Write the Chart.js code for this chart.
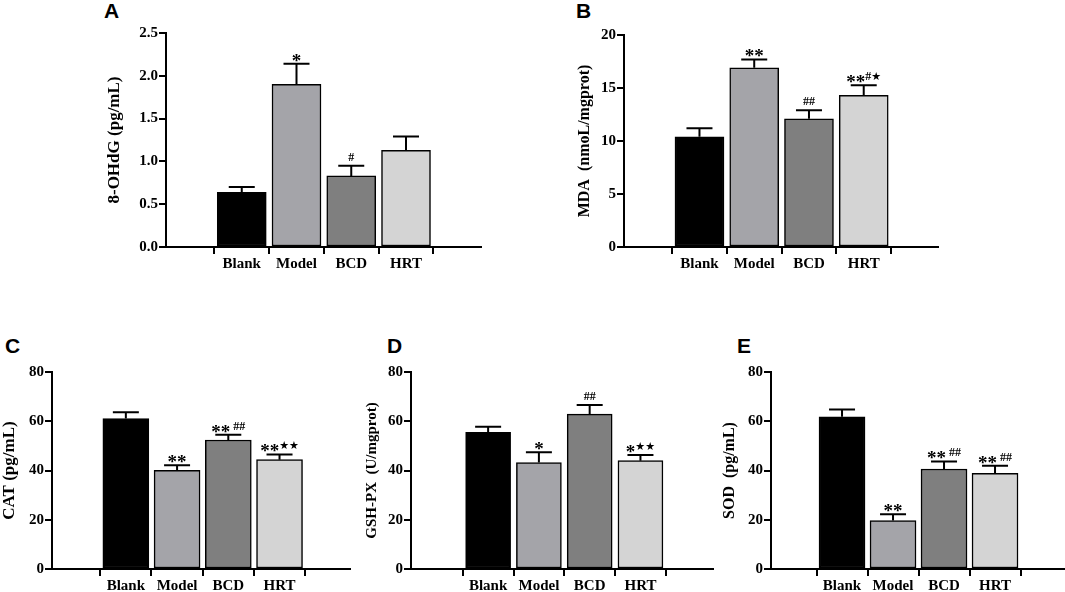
<!DOCTYPE html>
<html>
<head>
<meta charset="utf-8">
<script src="https://cdn.jsdelivr.net/npm/chart.js@4.4.0/dist/chart.umd.min.js"></script>
<style>
body { margin: 0; background: #fff; }
#wrap { position: relative; width: 1065px; height: 592px; overflow: hidden; background: #fff; }
#wrap canvas { position: absolute; }
.lbl { position: absolute; font: bold 21px "Liberation Sans", Arial, sans-serif; color: #000; line-height: 21px; }
</style>
</head>
<body>
<div id="wrap">
  <div class="lbl" style="left:104px;top:0px">A</div>
  <div class="lbl" style="left:576px;top:0px">B</div>
  <div class="lbl" style="left:5px;top:335px">C</div>
  <div class="lbl" style="left:387px;top:335px">D</div>
  <div class="lbl" style="left:737px;top:335px">E</div>
</div>
<script>
// groups and bar fills
var categories = ['Blank', 'Model', 'BCD', 'HRT'];
var barColors = ['#000000', '#a4a4a9', '#7f7f7f', '#d4d4d4'];

// A - 8-OHdG
var ohdgMean = [0.64, 1.90, 0.83, 1.13];
var ohdgSd = [0.06, 0.24, 0.12, 0.16];
var ohdgMarks = ['', '*', '#', ''];
var ohdgTicks = [0, 0.5, 1.0, 1.5, 2.0, 2.5];

// B - MDA
var mdaMean = [10.4, 16.9, 12.1, 14.3];
var mdaSd = [0.8, 0.8, 0.8, 0.95];
var mdaMarks = ['', '**', '##', '**#★'];
var mdaTicks = [0, 5, 10, 15, 20];

// C - CAT
var catMean = [61.1, 40.1, 52.4, 44.4];
var catSd = [2.6, 2.0, 2.1, 2.1];
var catMarks = ['', '**', '** ##', '**★★'];
var catTicks = [0, 20, 40, 60, 80];

// D - GSH-PX
var gshMean = [55.5, 43.2, 62.9, 44.0];
var gshSd = [2.3, 4.2, 3.7, 2.3];
var gshMarks = ['', '*', '##', '*★★'];
var gshTicks = [0, 20, 40, 60, 80];

// E - SOD
var sodMean = [61.8, 19.7, 40.6, 38.9];
var sodSd = [3.0, 2.5, 3.1, 3.0];
var sodMarks = ['', '**', '** ##', '** ##'];
var sodTicks = [0, 20, 40, 60, 80];

var SERIF = '"Liberation Serif", "Times New Roman", serif';

// draws the upward error bars and the significance marks
var errorBars = {
    id: 'errorBars',
    afterDatasetsDraw: function (chart, args, opts) {
        var ctx = chart.ctx;
        var xs = chart.scales.x, ys = chart.scales.y;
        ctx.save();
        ctx.strokeStyle = '#000';
        ctx.lineWidth = 2;
        opts.mean.forEach(function (m, i) {
            var x = xs.getPixelForValue(i);
            var y0 = ys.getPixelForValue(m);
            var y1 = ys.getPixelForValue(m + opts.sd[i]);
            ctx.beginPath();
            ctx.moveTo(x, y0);
            ctx.lineTo(x, y1);
            ctx.moveTo(x - 13, y1);
            ctx.lineTo(x + 13, y1);
            ctx.stroke();
            drawMark(ctx, opts.marks[i], x, y1);
        });
        ctx.restore();
    }
};

function markStyle(ch) {
    if (ch === '*') return { font: 'bold 19px ' + SERIF, dy: 5 };
    if (ch === '#') return { font: 'bold 12px ' + SERIF, dy: -3 };
    if (ch === '★') return { font: 'bold 11px "DejaVu Sans"', dy: -3 };
    return { font: 'bold 12px ' + SERIF, dy: 0 };
}

function drawMark(ctx, text, x, capY) {
    if (!text) return;
    var chars = Array.from(text);
    var widths = chars.map(function (c) {
        ctx.font = markStyle(c).font;
        return c === ' ' ? 3 : ctx.measureText(c).width;
    });
    var total = widths.reduce(function (a, b) { return a + b; }, 0);
    var cx = x - total / 2;
    ctx.fillStyle = '#000';
    ctx.textBaseline = 'alphabetic';
    ctx.textAlign = 'left';
    chars.forEach(function (c, k) {
        var st = markStyle(c);
        ctx.font = st.font;
        if (c !== ' ') ctx.fillText(c, cx, capY - 2 + st.dy);
        cx += widths[k];
    });
}

function makePanel(p) {
    var padTop = 14, padR = 4, xH = 40;
    var canvas = document.createElement('canvas');
    var w = p.yW + (p.rightX - p.axisX) + padR;
    var h = (p.bottomY - p.topY) + padTop + xH;
    canvas.width = w;
    canvas.height = h;
    canvas.style.left = (p.axisX - p.yW) + 'px';
    canvas.style.top = (p.topY - padTop) + 'px';
    canvas.style.width = w + 'px';
    canvas.style.height = h + 'px';
    document.getElementById('wrap').appendChild(canvas);

    var xMin = -(p.firstC - p.axisX) / p.step;
    var xMax = xMin + (p.rightX - p.axisX) / p.step;
    var axisGrid = { display: true, drawOnChartArea: false, drawTicks: true, tickLength: 7, tickColor: '#000', tickWidth: 2, color: '#000', lineWidth: 2 };

    new Chart(canvas, {
        type: 'bar',
        data: {
            datasets: [{
                data: p.mean.map(function (v, i) { return { x: i, y: v }; }),
                backgroundColor: barColors,
                borderColor: '#000',
                borderWidth: 1.5,
                borderSkipped: false,
                barThickness: p.barW
            }]
        },
        options: {
            responsive: false,
            animation: false,
            devicePixelRatio: 1,
            layout: { padding: { top: padTop, right: padR, left: 0, bottom: 0 } },
            plugins: {
                legend: { display: false },
                tooltip: { enabled: false },
                errorBars: { mean: p.mean, sd: p.sd, marks: p.marks }
            },
            scales: {
                x: {
                    type: 'linear',
                    min: xMin,
                    max: xMax,
                    afterBuildTicks: function (s) { s.ticks = categories.map(function (c, i) { return { value: i }; }); },
                    afterFit: function (s) { s.height = xH; },
                    ticks: {
                        autoSkip: false, maxRotation: 0, padding: 1, color: '#000',
                        font: { family: SERIF, size: 15, weight: 'bold' },
                        callback: function (v) { return categories[v]; }
                    },
                    grid: axisGrid,
                    border: { display: true, color: '#000', width: 2 }
                },
                y: {
                    min: 0,
                    max: p.ticks[p.ticks.length - 1],
                    afterBuildTicks: function (s) { s.ticks = p.ticks.map(function (v) { return { value: v }; }); },
                    afterFit: function (s) { s.width = p.yW; },
                    ticks: {
                        padding: 1, color: '#000',
                        font: { family: SERIF, size: 15, weight: 'bold' },
                        callback: function (v) { return v.toFixed(p.dec); }
                    },
                    grid: axisGrid,
                    border: { display: true, color: '#000', width: 2 },
                    title: {
                        display: true, text: p.title, color: '#000', padding: 0,
                        font: { family: SERIF, size: p.titleSize, weight: 'bold' }
                    }
                }
            }
        },
        plugins: [errorBars]
    });
}

makePanel({ mean: ohdgMean, sd: ohdgSd, marks: ohdgMarks, ticks: ohdgTicks, dec: 1, title: '8-OHdG (pg/mL)', titleSize: 17,
    axisX: 166, topY: 33, bottomY: 247, firstC: 214.5, step: 73, rightX: 481, yW: 62, barW: 49 });
makePanel({ mean: mdaMean, sd: mdaSd, marks: mdaMarks, ticks: mdaTicks, dec: 0, title: 'MDA  (nmoL/mgprot)', titleSize: 16,
    axisX: 624, topY: 35, bottomY: 247, firstC: 672.3, step: 73, rightX: 938, yW: 49, barW: 49 });
makePanel({ mean: catMean, sd: catSd, marks: catMarks, ticks: catTicks, dec: 0, title: 'CAT (pg/mL)', titleSize: 17,
    axisX: 52, topY: 372, bottomY: 569, firstC: 100.8, step: 68.3, rightX: 350, yW: 53, barW: 46 });
makePanel({ mean: gshMean, sd: gshSd, marks: gshMarks, ticks: gshTicks, dec: 0, title: 'GSH-PX  (U/mgprot)', titleSize: 15,
    axisX: 411, topY: 372, bottomY: 569, firstC: 463.5, step: 67.7, rightX: 713, yW: 48, barW: 45 });
makePanel({ mean: sodMean, sd: sodSd, marks: sodMarks, ticks: sodTicks, dec: 0, title: 'SOD  (pg/mL)', titleSize: 16,
    axisX: 771, topY: 372, bottomY: 569, firstC: 816.7, step: 68, rightX: 1065, yW: 51, barW: 46 });
</script>
</body>
</html>
